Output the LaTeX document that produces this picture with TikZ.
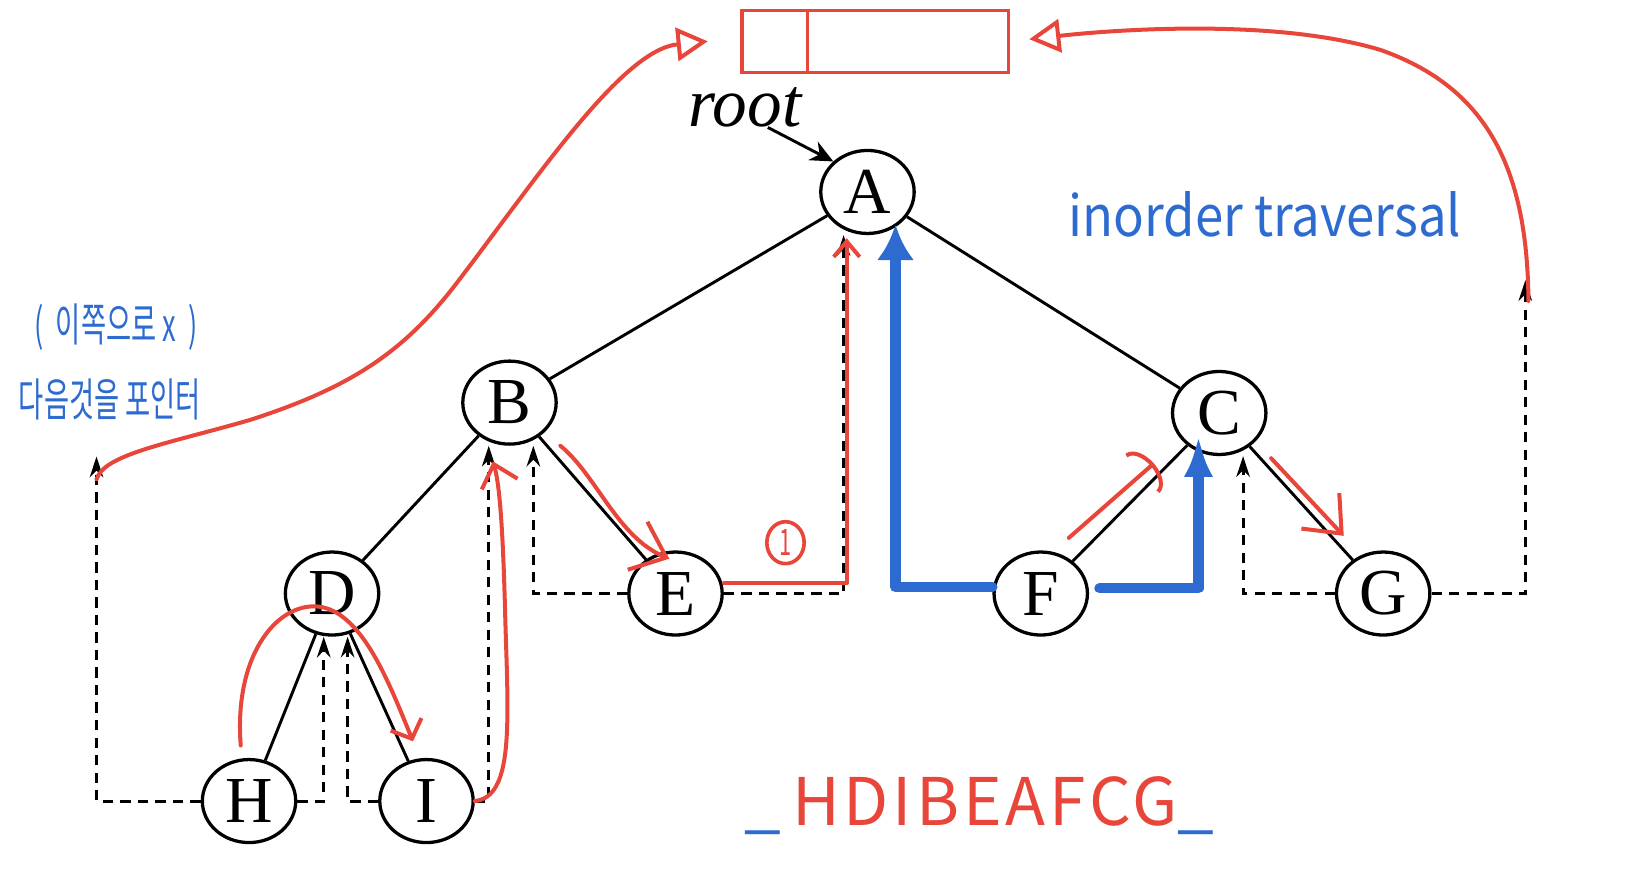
\documentclass[tikz,border=0pt]{standalone}
\usepackage{fontspec}
\setmainfont{Liberation Serif}
\newfontfamily\penfont[FakeStretch=0.9]{Noto Sans CJK KR}
\newfontfamily\capsfont[LetterSpace=6]{Noto Sans CJK KR}
\newfontfamily\hangul[FakeStretch=0.6]{Noto Sans CJK KR}
\usepackage{tikz}
\usetikzlibrary{arrows.meta,positioning,shapes.geometric}
\definecolor{penred}{HTML}{E8463B}
\definecolor{penblue}{HTML}{2E6BD0}

\begin{document}
\begin{tikzpicture}[
    every node/.style={font=\fontsize{18}{20}\selectfont},
    tnode/.style={draw, ellipse, line width=0.9pt, minimum width=0.9cm, minimum height=0.8cm, inner sep=0pt},
    edge/.style={line width=0.8pt},
    thread/.style={line width=0.8pt, dash pattern=on 2.8pt off 2pt, -{Stealth[length=0.2cm,width=0.13cm]}},
    redpen/.style={penred, line width=1.1pt, line cap=round, line join=round},
    bluepen/.style={penblue, line width=2.8pt, line cap=round, line join=round},
    cell/.style={draw=penred, line width=0.9pt, minimum height=0.6cm, inner sep=0pt, outer sep=0pt},
    hand/.style={text=penblue, font=\hangul\fontsize{12.5}{14}\selectfont}
]
    \useasboundingbox (0,0) rectangle (15.68,8.48);

    \node[tnode] (A) at (8.36,6.63) {A};
    \node[tnode] (B) at (4.91,4.60) {B};
    \node[tnode] (C) at (11.75,4.50) {C};
    \node[tnode] (D) at (3.20,2.76) {D};
    \node[tnode] (E) at (6.51,2.76) {E};
    \node[tnode] (F) at (10.03,2.76) {F};
    \node[tnode] (G) at (13.33,2.76) {G};
    \node[tnode] (H) at (2.40,0.76) {H};
    \node[tnode] (I) at (4.11,0.76) {I};

    \draw[edge] (A) -- (B);
    \draw[edge] (A) -- (C);
    \draw[edge] (B) -- (D);
    \draw[edge] (B) -- (E);
    \draw[edge] (C) -- (F);
    \draw[edge] (C) -- (G);
    \draw[edge] (D) -- (H);
    \draw[edge] (D) -- (I);

    \node[font=\itshape\fontsize{19}{20}\selectfont, inner sep=0pt] (root) at (7.18,7.45) {root};
    \draw[edge, -{Stealth[length=0.22cm,width=0.2cm]}] ([xshift=0.22cm]root.south) -- (A.north west);

    \node[cell, minimum width=0.63cm] (lcell) at (7.465,8.08) {};
    \node[cell, minimum width=1.94cm, right=0pt of lcell] (rcell) {};

    \coordinate (hprev) at (0.93,4.08);
    \coordinate (gnext) at (14.70,5.78);
    \draw[thread] (H.west) -| (hprev);
    \draw[thread] (H.east) -| ([xshift=-0.08cm]D.south);
    \draw[thread] (I.west) -| ([xshift=0.15cm]D.south);
    \draw[thread] (I.east) -| ([xshift=-0.2cm]B.south);
    \draw[thread] (E.west) -| ([xshift=0.23cm]B.south);
    \draw[thread] (E.east) -| ([xshift=-0.23cm]A.south);
    \draw[thread] (G.west) -| ([xshift=0.23cm]C.south);
    \draw[thread] (G.east) -| (gnext);

    \draw[bluepen, -{Latex[length=0.34cm,width=0.36cm]}] ([yshift=0.06cm]F.west) -| ([xshift=0.27cm,yshift=0.1cm]A.south);
    \draw[bluepen, -{Latex[length=0.4cm,width=0.28cm]}] ([xshift=0.1cm,yshift=0.05cm]F.east) -| ([xshift=-0.2cm,yshift=0.2cm]C.south);

    \draw[redpen, -{Triangle[open,length=0.3cm,width=0.32cm]}, shorten >=0.18cm] ([yshift=-0.22cm]hprev)
        .. controls (1.0,4.1) and (1.6,4.2) .. (2.4,4.43)
        .. controls (3.4,4.75) and (3.9,5.1) .. (4.4,5.75)
        .. controls (5.2,6.8) and (6.0,8.0) .. ([xshift=-0.15cm,yshift=0.02cm]lcell.west);
    \draw[redpen, -{Triangle[open,length=0.3cm,width=0.32cm]}, shorten >=0.2cm] ([xshift=0.03cm,yshift=-0.2cm]gnext)
        .. controls (14.72,6.9) and (14.3,7.65) .. (13.3,8.0)
        .. controls (12.3,8.3) and (10.8,8.2) .. (rcell.east);
    \draw[redpen, -{Straight Barb[length=0.15cm,width=0.25cm]}] ([yshift=0.1cm]E.east) -| ([xshift=-0.2cm,yshift=-0.03cm]A.south);
    \node[draw=penred, ellipse, line width=1pt, text=penred, font=\hangul\fontsize{10}{10}\selectfont, inner sep=0.5pt, minimum width=0.36cm, minimum height=0.34cm] (one) at (7.57,3.25) {1};

    \draw[redpen, -{Straight Barb[length=0.15cm,width=0.32cm]}] ([shift={(-0.08,0.12)}]H.north)
        .. controls (2.25,2.2) and (2.7,2.7) .. (3.1,2.63)
        .. controls (3.5,2.55) and (3.75,1.9) .. ([shift={(-0.13,0.16)}]I.north);
    \draw[redpen, -{Straight Barb[length=0.2cm,width=0.36cm]}] (I.east)
        .. controls (4.95,0.8) and (4.9,1.5) .. (4.87,2.5)
        .. controls (4.85,3.3) and (4.82,3.8) .. ([shift={(-0.16,-0.15)}]B.south);
    \draw[redpen, -{Straight Barb[length=0.3cm,width=0.5cm]}] ([xshift=0.49cm]B.south)
        .. controls (5.75,3.9) and (5.95,3.3) .. ([shift={(-0.06,-0.08)}]E.north);
    \draw[redpen, -{Arc Barb[length=0.15cm,width=0.5cm]}] ([shift={(0.27,0.12)}]F.north) -- ([shift={(-0.63,-0.07)}]C.south);
    \draw[redpen, -{Straight Barb[length=0.3cm,width=0.5cm]}] ([shift={(0.5,-0.02)}]C.south) -- ([shift={(-0.38,0.14)}]G.north);

    \node[text=penblue, font=\penfont\fontsize{15.5}{17}\selectfont] (title) at (12.19,6.41) {inorder traversal};
    \node[hand] (note1) at (1.12,5.33) {(\ \ 이쪽으로 x\ \ )};
    \node[hand] (note2) at (1.06,4.63) {다음것을 포인터};
    \node[text=penred, font=\capsfont\fontsize{18}{20}\selectfont] (order) at (9.44,0.72) {\textcolor{penblue}{\_}\,HDIBEAFCG\textcolor{penblue}{\_}};
\end{tikzpicture}
\end{document}
